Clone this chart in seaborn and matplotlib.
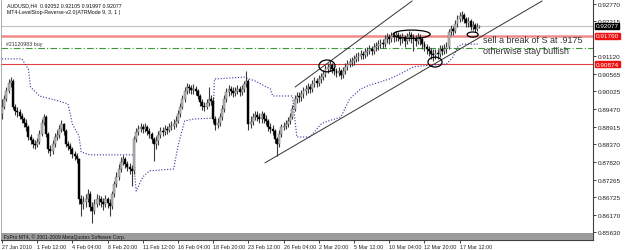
import numpy as np
import pandas as pd
import matplotlib
matplotlib.use("Agg")
import matplotlib.pyplot as plt
import matplotlib.transforms as mtransforms
from matplotlib.patches import Ellipse, Rectangle
import seaborn as sns

# ---------------- data ----------------
first_open = 0.8932
close = [0.8954,0.8979,0.9004,0.9029,0.9035,0.8954,0.8941,0.8938,0.8925,0.8916,
0.8904,0.8891,0.8860,0.8850,0.8838,0.8835,0.8844,0.8869,0.8904,0.8922,
0.8869,0.8822,0.8816,0.8838,0.8860,0.8866,0.8885,0.8900,0.8879,0.8838,
0.8832,0.8822,0.8807,0.8800,0.8791,0.8666,0.8650,0.8657,0.8666,0.8682,
0.8641,0.8629,0.8650,0.8666,0.8666,0.8657,0.8650,0.8666,0.8654,0.8644,
0.8682,0.8713,0.8735,0.8760,0.8782,0.8791,0.8775,0.8766,0.8760,0.8754,
0.8854,0.8875,0.8885,0.8891,0.8885,0.8891,0.8879,0.8869,0.8854,0.8838,
0.8847,0.8866,0.8879,0.8875,0.8885,0.8882,0.8891,0.8894,0.8900,0.8910,
0.8932,0.8954,0.8979,0.9004,0.9016,0.9013,0.9007,0.9010,0.9004,0.8988,
0.8969,0.8957,0.8954,0.8966,0.8979,0.8972,0.8916,0.8897,0.8904,0.8922,
0.8947,0.8979,0.9000,0.9010,0.9004,0.8997,0.9004,0.9010,0.9000,0.9010,
0.9025,0.9035,0.8900,0.8907,0.8922,0.8929,0.8922,0.8916,0.8932,0.8916,
0.8910,0.8891,0.8885,0.8879,0.8854,0.8838,0.8869,0.8891,0.8894,0.8900,
0.8910,0.8922,0.8947,0.8979,0.8988,0.8985,0.8994,0.9004,0.9010,0.9016,
0.9010,0.9025,0.9035,0.9029,0.9041,0.9047,0.9057,0.9072,0.9079,0.9085,
0.9072,0.9066,0.9060,0.9066,0.9054,0.9066,0.9079,0.9088,0.9094,0.9097,
0.9104,0.9110,0.9113,0.9119,0.9116,0.9125,0.9129,0.9135,0.9129,0.9141,
0.9144,0.9150,0.9154,0.9150,0.9166,0.9172,0.9166,0.9175,0.9172,0.9179,
0.9172,0.9166,0.9172,0.9160,0.9172,0.9179,0.9172,0.9166,0.9160,0.9172,
0.9166,0.9150,0.9141,0.9135,0.9129,0.9119,0.9116,0.9122,0.9119,0.9135,
0.9129,0.9135,0.9141,0.9188,0.9197,0.9191,0.9213,0.9229,0.9238,0.9241,
0.9229,0.9216,0.9222,0.9204,0.9210,0.9197,0.9204,0.92077]

high = [0.8979,0.8991,0.9016,0.9041,0.9047,0.9041,0.8963,0.8954,0.8947,0.8935,
0.8922,0.8916,0.8897,0.8869,0.8857,0.8850,0.8857,0.8882,0.8916,0.8932,
0.8929,0.8875,0.8835,0.8850,0.8872,0.8882,0.8897,0.8913,0.8904,0.8885,
0.8847,0.8841,0.8829,0.8816,0.8810,0.8794,0.8679,0.8675,0.8682,0.8697,
0.8691,0.8657,0.8666,0.8682,0.8679,0.8675,0.8669,0.8679,0.8672,0.8666,
0.8691,0.8722,0.8750,0.8775,0.8797,0.8804,0.8797,0.8785,0.8779,0.8772,
0.8863,0.8888,0.8897,0.8904,0.8900,0.8904,0.8897,0.8888,0.8875,0.8860,
0.8863,0.8879,0.8891,0.8891,0.8897,0.8894,0.8904,0.8910,0.8916,0.8925,
0.8944,0.8966,0.8991,0.9016,0.9029,0.9025,0.9022,0.9025,0.9019,0.9010,
0.8994,0.8979,0.8969,0.8979,0.9016,0.8991,0.8985,0.8925,0.8919,0.8935,
0.8960,0.8991,0.9013,0.9022,0.9019,0.9016,0.9016,0.9022,0.9019,0.9022,
0.9035,0.9066,0.9041,0.8925,0.8935,0.8941,0.8941,0.8935,0.8941,0.8938,
0.8929,0.8916,0.8904,0.8897,0.8885,0.8860,0.8882,0.8900,0.8907,0.8913,
0.8922,0.8935,0.8960,0.8991,0.9000,0.9000,0.9007,0.9016,0.9022,0.9029,
0.9025,0.9038,0.9047,0.9044,0.9054,0.9060,0.9069,0.9085,0.9091,0.9097,
0.9091,0.9082,0.9075,0.9079,0.9072,0.9079,0.9091,0.9100,0.9107,0.9110,
0.9116,0.9122,0.9125,0.9132,0.9129,0.9138,0.9141,0.9147,0.9144,0.9154,
0.9157,0.9163,0.9166,0.9166,0.9179,0.9185,0.9182,0.9188,0.9188,0.9191,
0.9188,0.9182,0.9185,0.9179,0.9185,0.9191,0.9188,0.9182,0.9179,0.9185,
0.9182,0.9172,0.9160,0.9150,0.9144,0.9138,0.9135,0.9135,0.9135,0.9147,
0.9147,0.9150,0.9157,0.9197,0.9210,0.9207,0.9225,0.9241,0.9250,0.9254,
0.9247,0.9235,0.9235,0.9229,0.9222,0.9216,0.9216,0.92105]

low = [0.8916,0.8947,0.8972,0.8997,0.9016,0.8947,0.8929,0.8922,0.8916,0.8904,
0.8891,0.8879,0.8850,0.8838,0.8825,0.8822,0.8829,0.8838,0.8863,0.8897,
0.8860,0.8810,0.8800,0.8807,0.8829,0.8850,0.8857,0.8875,0.8866,0.8829,
0.8819,0.8807,0.8794,0.8788,0.8779,0.8650,0.8613,0.8635,0.8641,0.8657,
0.8629,0.8591,0.8619,0.8641,0.8647,0.8641,0.8632,0.8641,0.8638,0.8613,
0.8635,0.8672,0.8704,0.8725,0.8750,0.8772,0.8763,0.8754,0.8744,0.8707,
0.8744,0.8844,0.8866,0.8875,0.8872,0.8875,0.8866,0.8857,0.8841,0.8785,
0.8822,0.8835,0.8857,0.8863,0.8866,0.8869,0.8875,0.8882,0.8885,0.8891,
0.8904,0.8922,0.8947,0.8969,0.8994,0.8997,0.8994,0.8994,0.8991,0.8979,
0.8957,0.8944,0.8941,0.8947,0.8957,0.8960,0.8904,0.8882,0.8888,0.8894,
0.8913,0.8938,0.8969,0.8988,0.8991,0.8985,0.8988,0.8994,0.8988,0.8991,
0.9000,0.9016,0.8882,0.8888,0.8897,0.8913,0.8910,0.8904,0.8904,0.8904,
0.8897,0.8879,0.8872,0.8866,0.8841,0.8800,0.8829,0.8860,0.8882,0.8885,
0.8891,0.8900,0.8916,0.8941,0.8966,0.8969,0.8972,0.8982,0.8991,0.8997,
0.8997,0.9000,0.9016,0.9016,0.9019,0.9029,0.9038,0.9047,0.9060,0.9066,
0.9060,0.9054,0.9047,0.9050,0.9041,0.9044,0.9057,0.9069,0.9079,0.9082,
0.9085,0.9094,0.9097,0.9104,0.9104,0.9107,0.9113,0.9119,0.9116,0.9119,
0.9129,0.9132,0.9138,0.9138,0.9141,0.9154,0.9150,0.9157,0.9157,0.9160,
0.9160,0.9147,0.9154,0.9141,0.9150,0.9160,0.9154,0.9129,0.9144,0.9150,
0.9147,0.9135,0.9129,0.9119,0.9113,0.9104,0.9097,0.9104,0.9104,0.9110,
0.9116,0.9119,0.9122,0.9135,0.9179,0.9179,0.9185,0.9204,0.9219,0.9222,
0.9216,0.9204,0.9204,0.9194,0.9194,0.9188,0.9191,0.91997]

# LevelStop-Reverse indicator (break points: bar index, level)
stop_bars = [0, 9, 12, 13, 17, 26, 30, 32, 35, 36,
             40, 60, 60.5, 61, 64, 67, 78, 80, 83, 87,
             96, 96.5, 110, 115, 122, 123, 132, 134, 140, 145,
             147, 154, 158, 163, 167, 172, 176, 181, 187, 191,
             202, 205, 207, 209, 217]
stop_levels = [0.9104, 0.9104, 0.9072, 0.9016, 0.8988, 0.8972, 0.8963, 0.8900, 0.8863, 0.8813,
               0.8804, 0.8804, 0.8729, 0.8691, 0.8735, 0.8754, 0.8760, 0.8832, 0.8910, 0.8916,
               0.8919, 0.9041, 0.9047, 0.9035, 0.9010, 0.8988, 0.8988, 0.8860, 0.8860, 0.8900,
               0.8907, 0.8922, 0.8979, 0.9010, 0.9022, 0.9032, 0.9041, 0.9057, 0.9079, 0.9082,
               0.9088, 0.9110, 0.9141, 0.9150, 0.9150]

date_labels = ["27 Jan 2010", "1 Feb 12:00", "4 Feb 04:00", "8 Feb 20:00", "11 Feb 12:00",
               "16 Feb 04:00", "18 Feb 20:00", "23 Feb 12:00", "26 Feb 04:00", "2 Mar 20:00",
               "5 Mar 12:00", "10 Mar 04:00", "12 Mar 20:00", "17 Mar 12:00"]
date_bars = [0, 16, 32, 48, 64, 80, 96, 112, 128, 144, 160, 176, 192, 208]

price_ticks = [0.92770, 0.92215, 0.91120, 0.90565, 0.90025, 0.89470, 0.88915,
               0.88370, 0.87820, 0.87265, 0.86725, 0.86170, 0.85630]

bid_price = 0.92077
resist_level = 0.91760
order_level = 0.91380
support_level = 0.90874

# channel lines (bar, price) endpoints
channel_low = ([119.5, 245.5], [0.8779, 0.9285])
channel_up = ([133.2, 186.4], [0.9016, 0.9285])

# annotation ellipses: (bar, price, width in bars, height in price)
ellipses = [(147.7, 0.9082, 7.3, 0.0037),
            (186.2, 0.9181, 16.8, 0.0026),
            (196.8, 0.9094, 6.4, 0.0031),
            (213.9, 0.9180, 5.0, 0.0016)]

# ---------------- plot ----------------
sns.set_theme(style="white")
plt.rcParams['font.family'] = ['Liberation Sans', 'DejaVu Sans']

fig = plt.figure(figsize=(6.25, 2.51), dpi=100)
fig.patch.set_facecolor("white")
ax = fig.add_axes([1/625, 10/251, 592/625, 241/251])
ax.set_facecolor("white")

n = len(close)
idx = np.arange(n)
opens = [first_open] + close[:-1]
df = pd.DataFrame({"bar": idx, "open": opens, "high": high, "low": low, "close": close})
up = df["close"] >= df["open"]

ax.vlines(df["bar"], df["low"], df["high"], color="#3a3a3a", lw=0.8, zorder=3)
body_b = np.minimum(df["open"], df["close"])
body_h = np.maximum(np.abs(df["close"] - df["open"]), 0.00008)
ax.bar(df["bar"][up], body_h[up], bottom=body_b[up], width=0.85,
       color="#b8b8b8", edgecolor="#606060", lw=0.3, zorder=4)
ax.bar(df["bar"][~up], body_h[~up], bottom=body_b[~up], width=0.85,
       color="black", edgecolor="black", lw=0.3, zorder=4)

# horizontal lines
ax.axhline(bid_price, color="#c0c0c0", lw=0.8, zorder=1)
ax.axhline(resist_level, color="#f08a8a", lw=1.8, zorder=1)
ax.axhline(order_level, color="#3a9a3a", lw=0.8, ls=(0, (6, 2, 1, 2)), zorder=1)
ax.axhline(support_level, color="#e04040", lw=0.8, zorder=1)

# indicator dotted step line
sdf = pd.DataFrame({"bar": stop_bars, "level": stop_levels})
sns.lineplot(data=sdf, x="bar", y="level", ax=ax, estimator=None, sort=False,
             color="#3030a0", lw=0.8, linestyle=(0, (1, 1.6)), zorder=2)

# channel
ax.plot(channel_low[0], channel_low[1], color="#333333", lw=0.7, zorder=5)
ax.plot(channel_up[0], channel_up[1], color="#333333", lw=0.7, zorder=5)

for (bx, py, w, h) in ellipses:
    ax.add_patch(Ellipse((bx, py), w, h, fill=False, ec="black", lw=0.9, zorder=6))

ax.set_xlim(-0.45, 268.6)
ax.set_ylim(0.85380, 0.92911)
ax.set_xlabel("")
ax.set_ylabel("")

# axes styling
ax.spines["top"].set_visible(False)
ax.spines["left"].set_color("#a0a0a0")
ax.spines["left"].set_linewidth(0.6)
ax.spines["right"].set_color("#404040")
ax.spines["right"].set_linewidth(0.8)
ax.spines["bottom"].set_color("#404040")
ax.spines["bottom"].set_linewidth(0.8)

ax.yaxis.tick_right()
ax.set_yticks(price_ticks)
ax.set_yticklabels([f"{p:.5f}" for p in price_ticks])
ax.tick_params(axis="y", which="both", right=True, left=False, length=2.5, width=0.6,
               pad=1.0, labelsize=4.6, colors="#222222", direction="out")
ax.set_xticks(date_bars)
ax.set_xticklabels(date_labels)
ax.tick_params(axis="x", bottom=True, length=2, width=0.6, pad=0.6, labelsize=3.9,
               colors="#222222", direction="out")
for lab in ax.get_xticklabels():
    lab.set_ha("left")

# bottom copyright band
ax.add_patch(Rectangle((0, 0), 1, 7/241, transform=ax.transAxes, facecolor="#9c9c9c",
                       edgecolor="none", zorder=7))
ax.text(3/592, 3.5/241, "FxPro MT4, © 2001-2009 MetaQuotes Software Corp.",
        transform=ax.transAxes, fontsize=3.6, va="center", ha="left", color="#111111", zorder=8)

# header texts
ax.text(6/592, 1 - 3/241, "AUDUSD,H4  0.92052 0.92105 0.91997 0.92077",
        transform=ax.transAxes, fontsize=3.8, va="top", ha="left", color="#111111")
ax.text(6/592, 1 - 10/241, "MT4-LevelStop-Reverse-v2.0(ATRMode 9, 3, 1 )",
        transform=ax.transAxes, fontsize=3.8, va="top", ha="left", color="#111111")
trans = mtransforms.blended_transform_factory(ax.transAxes, ax.transData)
ax.text(5/592, order_level + 0.0007, "#21120983 buy", transform=trans, fontsize=3.8,
        va="bottom", ha="left", color="#333333")

# annotation text
ax.text(218.6, 0.9165, "sell a break of S at .9175", fontsize=6.5, va="center", ha="left",
        color="#333333", zorder=8)
ax.text(218.6, 0.9130, "otherwise stay bullish", fontsize=6.5, va="center", ha="left",
        color="#333333", zorder=8)

# price boxes on the right scale
for val, bg in [(bid_price, "black"), (resist_level, "#ee1111"), (support_level, "#ee1111")]:
    ax.annotate(f"{val:.5f}", xy=(1.0, val), xycoords=trans, xytext=(2.0, 0),
                textcoords="offset points", fontsize=4.6, va="center", ha="left",
                color="white", annotation_clip=False,
                bbox=dict(boxstyle="square,pad=0.1", fc=bg, ec=bg))

fig.savefig("out.png", dpi=100, facecolor="white")
